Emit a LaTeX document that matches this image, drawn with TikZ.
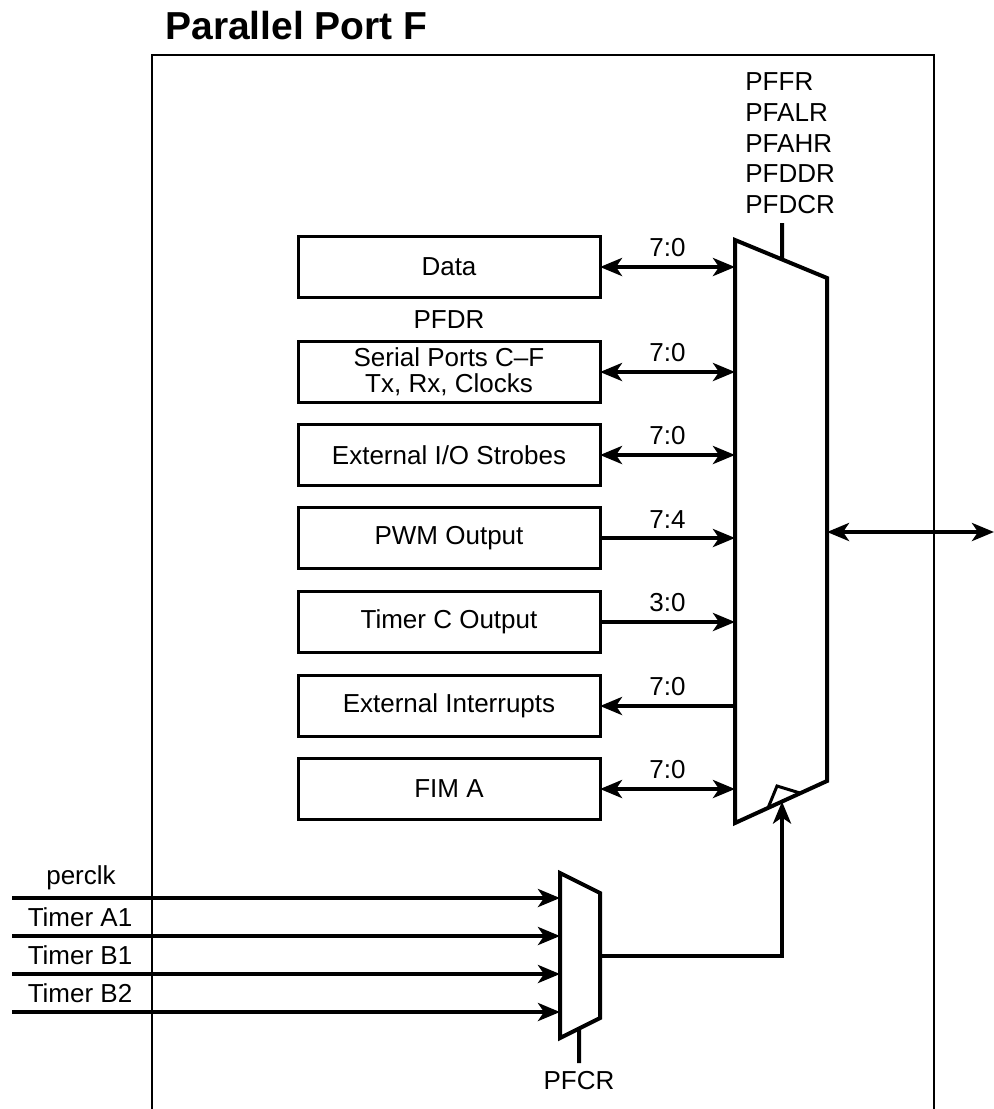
\documentclass[tikz,border=0pt]{standalone}
\usepackage{fontspec}
\setmainfont{Liberation Sans}
\usetikzlibrary{arrows.meta,positioning,calc}
\tikzset{blk/.style={draw, line width=1.5pt, minimum width=151pt, minimum height=30.5pt,
                     inner sep=0pt, outer sep=0pt, align=center, font=\fontsize{13}{13}\selectfont}}
\tikzset{lbl/.style={inner sep=0pt, font=\fontsize{13}{13}\selectfont}}
\tikzset{bus/.style={line width=2pt}}
\tikzset{muxline/.style={line width=2pt, line join=miter}}

\begin{document}
\begin{tikzpicture}[x=0.5pt,y=-0.5pt,>={Stealth[length=11pt,width=9pt,inset=3pt]}]
\useasboundingbox (0,0) rectangle (994,1109);

\node[anchor=base west,inner sep=0pt,font=\fontsize{19.5}{19.5}\selectfont\bfseries] (title) at (165,39) {Parallel Port F};
\draw[line width=1.2pt] (152,1109) -- (152,55) -- (934,55) -- (934,1109);

% blocks
\node[blk] (data) at (449,267) {Data};
\node[lbl] (pfdr) at (449,320) {PFDR};
\node[blk] (serial) at (449,372) {Serial Ports C--F\\Tx, Rx, Clocks};
\node[blk] (extio) at (449,455) {External I/O Strobes};
\node[blk] (pwm) at (449,538) {PWM Output};
\node[blk] (timc) at (449,622) {Timer C Output};
\node[blk] (extint) at (449,706) {External Interrupts};
\node[blk] (fima) at (449,789) {FIM A};

% port mux
\coordinate (m1) at (735,240);
\coordinate (m2) at (827,278);
\coordinate (m3) at (827,781);
\coordinate (m4) at (735,823);
\draw[muxline] (m1) -- (m2) -- (m3) -- (m4) -- cycle;
\draw[line width=1.5pt] (768,808) -- (777,786) -- (800,793);
\coordinate (msel) at (782,223);
\draw[bus] (msel) -- ($(m1)!0.511!(m2)$);
\foreach \r [count=\i] in {PFFR,PFALR,PFAHR,PFDDR,PFDCR}
         {
           \node[lbl,anchor=west] (reg\i) at (745,51+30.7*\i) {\r};
         }

\draw[bus,<->] (data.east) -- node[lbl,above=4pt] {7:0} (data.east -| m1);
\draw[bus,<->] (serial.east) -- node[lbl,above=4pt] {7:0} (serial.east -| m1);
\draw[bus,<->] (extio.east) -- node[lbl,above=4pt] {7:0} (extio.east -| m1);
\draw[bus,->] (pwm.east) -- node[lbl,above=4pt] {7:4} (pwm.east -| m1);
\draw[bus,->] (timc.east) -- node[lbl,above=4pt] {3:0} (timc.east -| m1);
\draw[bus,->] (extint.east -| m1) -- node[lbl,above=4pt] {7:0} (extint.east);
\draw[bus,<->] (fima.east) -- node[lbl,above=4pt] {7:0} (fima.east -| m1);

\coordinate (pout) at (994,532);
\draw[bus,<->] (m2 |- pout) -- (pout);

% clock select mux
\coordinate (s1) at (560,873);
\coordinate (s2) at (600,893);
\coordinate (s3) at (600,1018);
\coordinate (s4) at (560,1038);
\draw[muxline] (s1) -- (s2) -- (s3) -- (s4) -- cycle;
\coordinate (ssel) at (579,1063);
\draw[bus] ($(s4)!0.475!(s3)$) -- (ssel);
\node[lbl,anchor=north] (pfcr) at (579,1071) {PFCR};

\foreach \y [count=\i] in {898,936,974,1012}
         {
           \coordinate (in\i) at (12,\y);
           \draw[bus,->] (in\i) -- (in\i -| s1);
         }
\node[lbl] (perclk) at (81,878) {perclk};
\node[lbl] (tma1) at (80,917) {Timer A1};
\node[lbl] (tmb1) at (80,955) {Timer B1};
\node[lbl] (tmb2) at (80,993) {Timer B2};

\draw[bus,->] ($(s2)!0.5!(s3)$) -| ($(m4)!0.511!(m3)$);

\end{tikzpicture}
\end{document}
